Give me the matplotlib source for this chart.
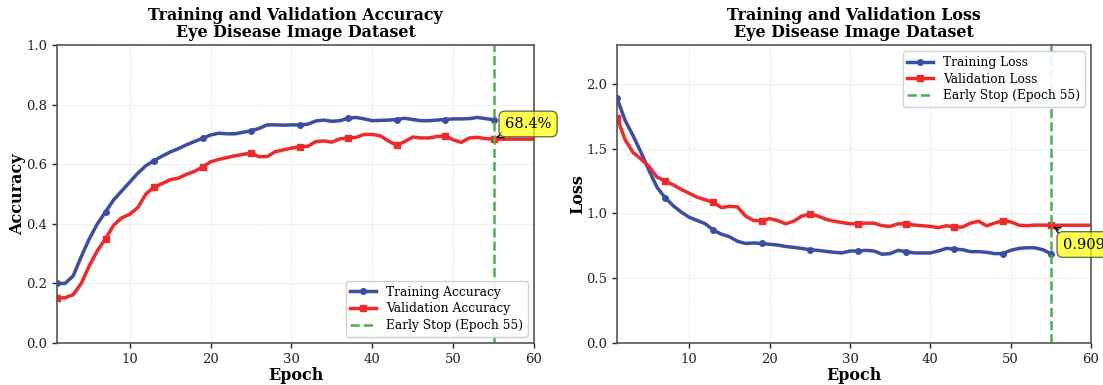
import numpy as np
import matplotlib
matplotlib.use("Agg")
import matplotlib.pyplot as plt

# per-epoch history
train_acc = [0.200, 0.200, 0.225, 0.290, 0.350, 0.400, 0.440, 0.480, 0.510, 0.540,
             0.570, 0.595, 0.612, 0.627, 0.641, 0.652, 0.665, 0.676, 0.687, 0.698,
             0.704, 0.702, 0.702, 0.707, 0.712, 0.720, 0.732, 0.732, 0.731, 0.732,
             0.732, 0.734, 0.745, 0.748, 0.744, 0.746, 0.754, 0.757, 0.752, 0.746,
             0.747, 0.748, 0.750, 0.754, 0.750, 0.746, 0.746, 0.748, 0.750, 0.752,
             0.752, 0.753, 0.757, 0.753, 0.749]
val_acc = [0.150, 0.152, 0.162, 0.200, 0.260, 0.310, 0.350, 0.395, 0.420, 0.432,
           0.455, 0.500, 0.523, 0.535, 0.548, 0.553, 0.566, 0.576, 0.590, 0.608,
           0.616, 0.622, 0.628, 0.633, 0.637, 0.625, 0.626, 0.642, 0.648, 0.654,
           0.658, 0.660, 0.676, 0.678, 0.674, 0.685, 0.688, 0.690, 0.700, 0.700,
           0.695, 0.678, 0.663, 0.676, 0.691, 0.688, 0.688, 0.693, 0.695, 0.682,
           0.673, 0.688, 0.690, 0.686, 0.684, 0.684, 0.684, 0.684, 0.684, 0.684]
train_loss = [1.890, 1.720, 1.600, 1.470, 1.330, 1.200, 1.120, 1.060, 1.010, 0.970,
              0.945, 0.920, 0.870, 0.840, 0.820, 0.785, 0.768, 0.772, 0.768, 0.762,
              0.756, 0.745, 0.738, 0.730, 0.720, 0.715, 0.707, 0.700, 0.695, 0.710,
              0.710, 0.715, 0.710, 0.685, 0.690, 0.715, 0.705, 0.695, 0.695, 0.695,
              0.710, 0.730, 0.725, 0.720, 0.705, 0.705, 0.700, 0.690, 0.690, 0.715,
              0.730, 0.735, 0.735, 0.720, 0.690]
val_loss = [1.740, 1.570, 1.470, 1.420, 1.360, 1.280, 1.250, 1.220, 1.185, 1.155,
            1.125, 1.105, 1.085, 1.045, 1.055, 1.050, 0.980, 0.945, 0.945, 0.960,
            0.945, 0.920, 0.940, 0.980, 0.995, 0.980, 0.955, 0.940, 0.930, 0.920,
            0.920, 0.925, 0.925, 0.905, 0.900, 0.920, 0.920, 0.910, 0.905, 0.900,
            0.890, 0.905, 0.895, 0.895, 0.925, 0.940, 0.905, 0.925, 0.945, 0.935,
            0.910, 0.905, 0.910, 0.910, 0.909, 0.909, 0.909, 0.909, 0.909, 0.909]
stop_epoch = 55
best_acc_label = "68.4%"
best_loss_label = "0.909"

plt.rcParams['font.family'] = ['DejaVu Serif']

BLUE = '#3a4fa3'
RED = '#ee2a2a'
GREEN = '#4caf50'

fig = plt.figure(figsize=(11.03, 3.85), dpi=100)
ax1 = fig.add_axes([57 / 1103, 1 - 343 / 385, (534 - 57) / 1103, (343 - 45) / 385])
ax2 = fig.add_axes([617 / 1103, 1 - 343 / 385, (1091 - 617) / 1103, (343 - 45) / 385])


def draw_panel(ax, train, val, names, ylabel, title, ylim, legend_loc):
    ep_t = np.arange(1, len(train) + 1)
    ep_v = np.arange(1, len(val) + 1)
    ax.plot(ep_t, train, color=BLUE, lw=2.5, marker='o', markersize=4,
            markevery=6, label=names[0])
    ax.plot(ep_v, val, color=RED, lw=2.5, marker='s', markersize=4.5,
            markevery=6, label=names[1])
    ax.axvline(stop_epoch, color=GREEN, ls='--', lw=1.8,
               label=f'Early Stop (Epoch {stop_epoch})')
    ax.set_xlim(1, 60)
    ax.set_ylim(*ylim)
    ax.set_xticks([10, 20, 30, 40, 50, 60])
    ax.set_xlabel('Epoch', fontsize=11.5, fontweight='bold', labelpad=1)
    ax.set_ylabel(ylabel, fontsize=11.5, fontweight='bold', labelpad=0)
    ax.set_title(title, fontsize=11.4, fontweight='bold', pad=5.5, linespacing=1.05)
    ax.grid(True, ls='--', lw=0.6, alpha=0.3)
    ax.tick_params(labelsize=9.5, colors='#222222', length=3.5, width=1)
    for sp in ax.spines.values():
        sp.set_color('#555555')
        sp.set_linewidth(1.2)
    ax.legend(loc=legend_loc, fontsize=8.8, framealpha=0.9, edgecolor='#cccccc',
              handlelength=2.1, borderpad=0.4, labelspacing=0.3)


draw_panel(ax1, train_acc, val_acc, ['Training Accuracy', 'Validation Accuracy'],
           'Accuracy', 'Training and Validation Accuracy\nEye Disease Image Dataset',
           (0, 1.0), 'lower right')
draw_panel(ax2, train_loss, val_loss, ['Training Loss', 'Validation Loss'],
           'Loss', 'Training and Validation Loss\nEye Disease Image Dataset',
           (0, 2.3), 'upper right')
ax1.set_yticks([0, 0.2, 0.4, 0.6, 0.8, 1.0])
ax2.set_yticks([0, 0.5, 1.0, 1.5, 2.0])

box = dict(boxstyle='round,pad=0.4', facecolor='yellow', alpha=0.7, edgecolor='#333333')
arrow = dict(arrowstyle='->', color='black', lw=1)
ax1.annotate(best_acc_label, xy=(stop_epoch, val_acc[stop_epoch - 1]),
             xytext=(56.4, 0.735), fontsize=10.5, va='center', bbox=box,
             arrowprops=arrow, annotation_clip=False, zorder=5)
ax2.annotate(best_loss_label, xy=(stop_epoch, val_loss[stop_epoch - 1]),
             xytext=(56.5, 0.76), fontsize=10.5, va='center', bbox=box,
             arrowprops=arrow, annotation_clip=False, zorder=5)

fig.savefig('out.png', dpi=100)
